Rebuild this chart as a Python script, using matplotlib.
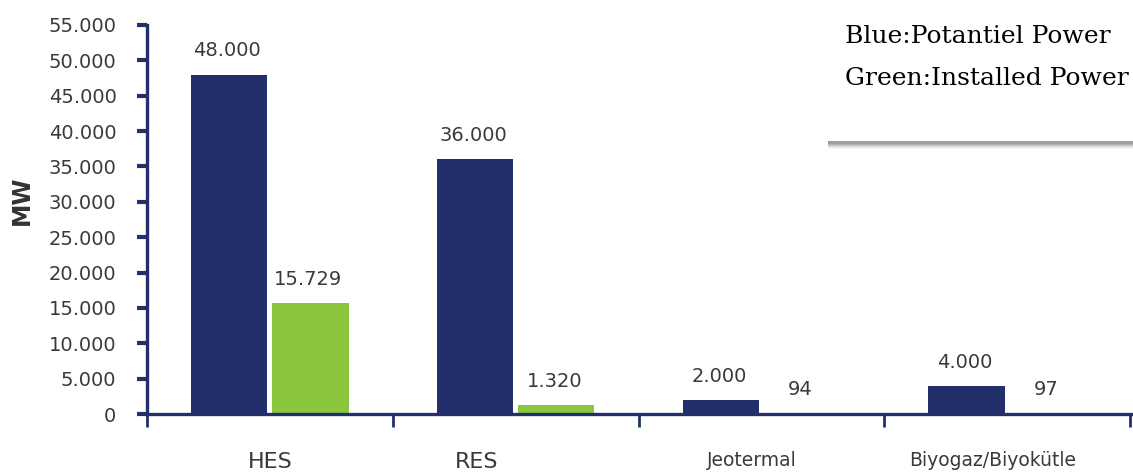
import matplotlib
matplotlib.use("Agg")
from matplotlib import pyplot as plt
from matplotlib.patches import Rectangle
import numpy as np

# data
categories = ['HES', 'RES', 'Jeotermal', 'Biyogaz/Biyokütle']
potential = [48000, 36000, 2000, 4000]
installed = [15729, 1320, 94, 97]
yticks = list(range(0, 55001, 5000))

navy = '#232f6a'
green = '#8cc63f'
txt = '#3a3a3a'


def dotted(v):
    return f'{v:,.0f}'.replace(',', '.')


fig = plt.figure(figsize=(11.33, 4.72), dpi=100)
ax = fig.add_axes([147 / 1133, 58 / 472, 1 - 147 / 1133, (414 - 25) / 472])

x = np.arange(len(categories))
w = 0.31
off = 0.165
b1 = ax.bar(x - off, potential, w, color=navy, zorder=2)
b2 = ax.bar(x + off, installed, w, color=green, zorder=2)

for bars, vals in ((b1, potential), (b2, installed)):
    for r, v in zip(bars, vals):
        ax.annotate(dotted(v), (r.get_x() + r.get_width() / 2 - 0.008, v),
                    xytext=(0, 17), textcoords='offset points',
                    ha='center', va='center', fontsize=14, color=txt)

ax.set_ylim(0, 55000)
ax.set_xlim(-0.5, 3.5 + 3 / 246.5)
ax.set_yticks(yticks)
ax.set_yticklabels([dotted(v) for v in yticks], fontsize=14, color=txt)

# category separators as minor ticks, labels as major ticks
ax.set_xticks(np.arange(-0.5, len(categories)), minor=True)
label_shift = [0.0, -0.16, -0.04, -0.06]
ax.set_xticks(x + np.array(label_shift))
ax.set_xticklabels(categories, color=txt)
for lab, fs in zip(ax.get_xticklabels(), [16, 16, 13.5, 13.5]):
    lab.set_fontsize(fs)
ax.tick_params(axis='x', which='major', length=0, pad=27)
ax.tick_params(axis='x', which='minor', length=9, width=2, color=navy, direction='out')
ax.tick_params(axis='y', length=7, width=3, color=navy, direction='out', pad=15)

for s in ('top', 'right'):
    ax.spines[s].set_visible(False)
for s in ('left', 'bottom'):
    ax.spines[s].set_color(navy)
    ax.spines[s].set_linewidth(2.4)
ax.spines['bottom'].set_zorder(3)

fig.text(22 / 1133, 1 - 200 / 472, 'MW', rotation=90, ha='center', va='center',
         fontsize=17, fontweight='bold', color='#333333')

# legend-like note box with soft shadow
bx, by, bw, bh = 826 / 1133, 1 - 141 / 472, 1 - 826 / 1133, 141 / 472
for i, a in enumerate([0.04, 0.07, 0.1, 0.14, 0.18, 0.22]):
    d = (8 - i) / 472
    fig.patches.append(Rectangle((bx + 0.002, by - d), bw, bh, transform=fig.transFigure,
                                 facecolor='#555555', alpha=a, edgecolor='none', zorder=4))
fig.patches.append(Rectangle((bx, by), bw, bh, transform=fig.transFigure,
                             facecolor='white', edgecolor='none', zorder=5))
fig.text(845 / 1133, 1 - 43 / 472, 'Blue:Potantiel Power', fontsize=18,
         family='DejaVu Serif', color='black', zorder=6, va='baseline')
fig.text(845 / 1133, 1 - 85 / 472, 'Green:Installed Power', fontsize=18,
         family='DejaVu Serif', color='black', zorder=6, va='baseline')

fig.savefig('out.png', dpi=100)
